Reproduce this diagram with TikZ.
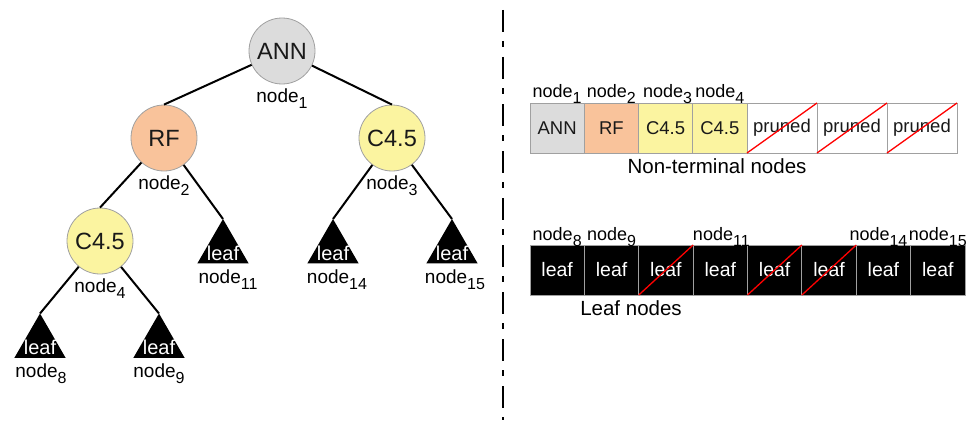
\documentclass[tikz,border=0pt]{standalone}
\usepackage{fontspec}
\setmainfont{Liberation Sans}
\usetikzlibrary{shapes.geometric,calc}

\definecolor{anngray}{HTML}{DCDCDC}
\definecolor{rfpeach}{HTML}{F9C39B}
\definecolor{cyellow}{HTML}{FBF4A0}
\definecolor{rimgray}{HTML}{A0A0A0}

% subscript index of a node label
\newcommand\nsub[1]{\raisebox{-6pt}{\fontsize{16}{16}\selectfont #1}}

\tikzset{
  treenode/.style={circle, draw=rimgray, line width=0.8pt, minimum size=66pt,
    inner sep=0pt, font=\fontsize{23.5}{23.5}\selectfont, text=black!90},
  leaftri/.style={regular polygon, regular polygon sides=3, fill=black,
    minimum size=59pt, inner sep=0pt, outer sep=0pt},
  leafword/.style={anchor=base, inner sep=0pt, text=white,
    font=\fontsize{20}{20}\selectfont},
  tlabel/.style={anchor=base, inner sep=0pt, font=\fontsize{19}{19}\selectfont},
  edge/.style={line width=2pt},
  cell/.style={draw=rimgray, line width=0.8pt, anchor=north west, minimum height=50pt,
    inner sep=0pt, outer sep=0pt, font=\fontsize{18.5}{18.5}\selectfont, text=black!90},
  leafcell/.style={cell, fill=black, text=white, font=\fontsize{19.5}{19.5}\selectfont},
  alabel/.style={anchor=base, inner sep=0pt, font=\fontsize{18}{18}\selectfont},
  caption/.style={anchor=base, inner sep=0pt, font=\fontsize{20.5}{20.5}\selectfont},
  slash/.style={draw=red, line width=1.3pt},
}

\begin{document}
\begin{tikzpicture}[x=1pt,y=-1pt]
\useasboundingbox (0,0) rectangle (971,420);

% ---------- decision tree ----------
\node[treenode, fill=anngray] (n1) at (282,51) {ANN};
\node[treenode, fill=rfpeach] (n2) at (164,138) {RF};
\node[treenode, fill=cyellow] (n3) at (392,138) {C4.5};
\node[treenode, fill=cyellow] (n4) at (100,241) {C4.5};

\node[leaftri] (t11) at (223,248.5) {};
\node[leaftri] (t14) at (333,248.5) {};
\node[leaftri] (t15) at (452,248.5) {};
\node[leaftri] (t8)  at (40,343) {};
\node[leaftri] (t9)  at (159,343) {};

\foreach \t in {t11,t14,t15,t8,t9}
  \node[leafword] (w\t) at ($(\t.side 2)+(0,-3)$) {leaf};

\draw[edge] (n1) -- (n2.north);
\draw[edge] (n1) -- (n3.north);
\draw[edge] (n2) -- (n4.north);
\draw[edge] (n2) -- (t11.corner 1);
\draw[edge] (n3) -- (t14.corner 1);
\draw[edge] (n3) -- (t15.corner 1);
\draw[edge] (n4) -- (t8.corner 1);
\draw[edge] (n4) -- (t9.corner 1);

\node[tlabel] (ln1) at ($(n1.south)+(0,18)$) {node\nsub{1}};
\node[tlabel] (ln2) at ($(n2.south)+(0,18)$) {node\nsub{2}};
\node[tlabel] (ln3) at ($(n3.south)+(0,18)$) {node\nsub{3}};
\node[tlabel] (ln4) at ($(n4.south)+(0,18)$) {node\nsub{4}};
\node[tlabel] (ln11) at ($(t11.side 2)+(5,20)$) {node\nsub{11}};
\node[tlabel] (ln14) at ($(t14.side 2)+(4,20)$) {node\nsub{14}};
\node[tlabel] (ln15) at ($(t15.side 2)+(3,20)$) {node\nsub{15}};
\node[tlabel] (ln8) at ($(t8.side 2)+(1,20)$) {node\nsub{8}};
\node[tlabel] (ln9) at ($(t9.side 2)+(0,20)$) {node\nsub{9}};

% ---------- divider ----------
\coordinate (dtop) at (503,10);
\coordinate (dbot) at (503,420);
\draw[line width=2pt, dash pattern=on 22pt off 9pt on 6pt off 10pt] (dtop) -- (dbot);

% ---------- non-terminal node array ----------
\node[cell, fill=anngray, minimum width=54.25pt] (a1) at (530,103) {ANN};
\node[cell, fill=rfpeach, minimum width=54.25pt] (a2) at (584.25,103) {RF};
\node[cell, fill=cyellow, minimum width=54.25pt] (a3) at (638.5,103) {C4.5};
\node[cell, fill=cyellow, minimum width=54.25pt] (a4) at (692.75,103) {C4.5};
\node[cell, fill=white, minimum width=70pt] (a5) at (747,103) {pruned};
\node[cell, fill=white, minimum width=70pt] (a6) at (817,103) {pruned};
\node[cell, fill=white, minimum width=70pt] (a7) at (887,103) {pruned};
\foreach \c in {a5,a6,a7}
  \draw[slash] (\c.south west) -- (\c.north east);

\node[alabel] (la1) at ($(a1.north)+(0,-6)$) {node\nsub{1}};
\node[alabel] (la2) at ($(a2.north)+(0,-6)$) {node\nsub{2}};
\node[alabel] (la3) at ($(a3.north)+(2,-6)$) {node\nsub{3}};
\node[alabel] (la4) at ($(a4.north)+(0,-6)$) {node\nsub{4}};
\node[caption] (capa) at (717,173) {Non-terminal nodes};

% ---------- leaf node array ----------
\foreach \i [count=\k from 0] in {1,...,8}
  \node[leafcell, minimum width=54.375pt] (b\i) at (530+54.375*\k,245) {leaf};
\foreach \c in {b3,b5,b6}
  \draw[slash] (\c.south west) -- (\c.north east);

\node[alabel] (lb8)  at ($(b1.north)+(0,-5)$) {node\nsub{8}};
\node[alabel] (lb9)  at ($(b2.north)+(0,-5)$) {node\nsub{9}};
\node[alabel] (lb11) at ($(b4.north)+(1,-5)$) {node\nsub{11}};
\node[alabel] (lb14) at ($(b7.north)+(-5,-5)$) {node\nsub{14}};
\node[alabel] (lb15) at ($(b8.north)+(0,-5)$) {node\nsub{15}};
\node[caption] (capb) at (631,315) {Leaf nodes};
\end{tikzpicture}
\end{document}
